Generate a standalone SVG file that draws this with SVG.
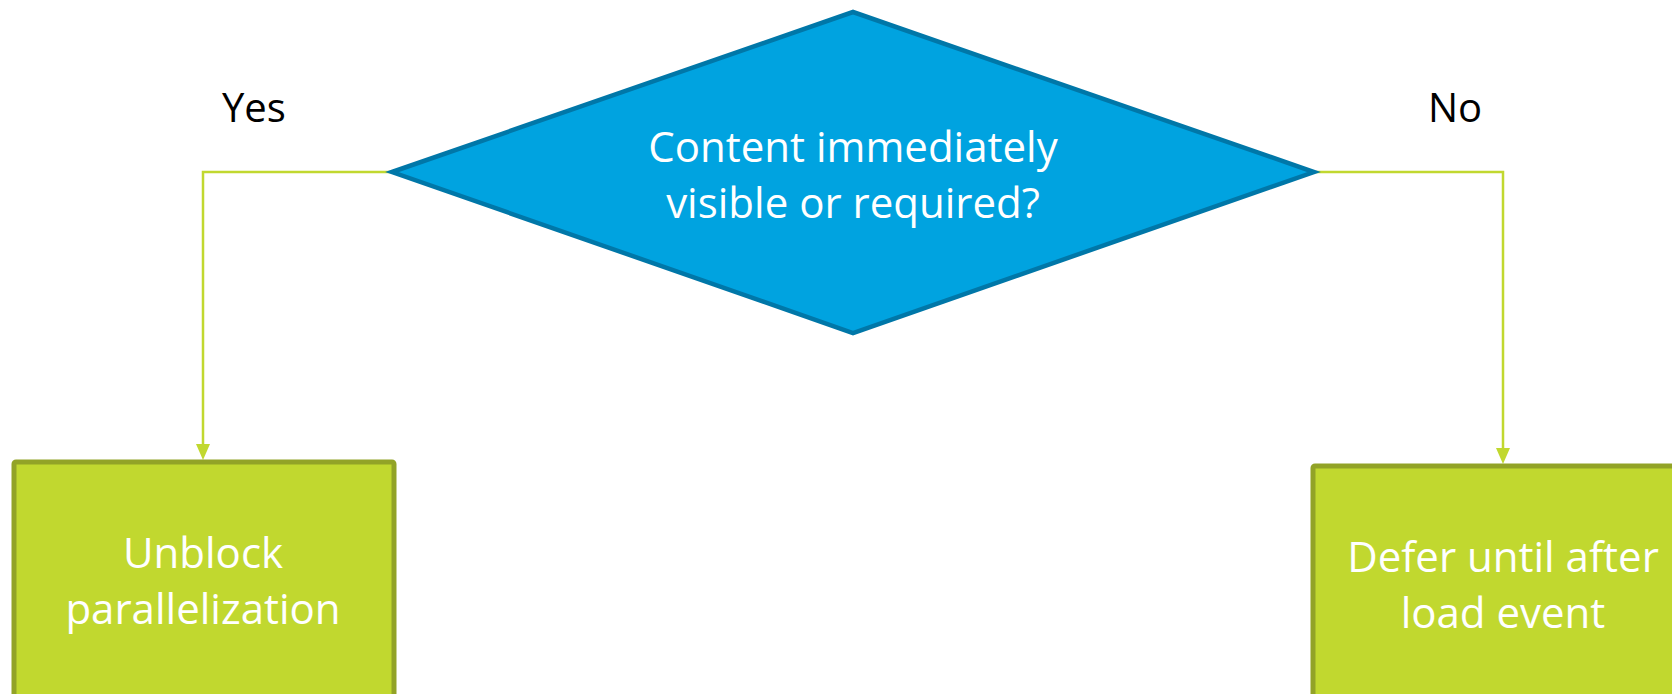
<svg xmlns="http://www.w3.org/2000/svg" width="1672" height="694" viewBox="0 0 1672 694">
<style>
.lbl{font-family:"Open Sans","Noto Sans",sans-serif;font-size:40px;fill:#000}
.wt{font-family:"Open Sans","Noto Sans",sans-serif;font-size:42px;fill:#fff;text-anchor:middle}
.box{fill:#c1d82f;stroke:#92a327;stroke-width:5}
.conn{fill:none;stroke:#c1d82f;stroke-width:2.5}
.head{fill:#c1d82f}
</style>
<rect width="1672" height="694" fill="#fff"/>
<g id="connectors">
<path class="conn" d="M392,172 H203 V445" />
<path class="head" d="M196,444 L210,444 L203,460 Z"/>
<path class="conn" d="M1314,172 H1503 V449" />
<path class="head" d="M1496,448 L1510,448 L1503,464 Z"/>
</g>
<g id="decision">
<polygon points="392,172 853,12 1314,172 853,333" fill="#00a3e0" stroke="#0077a8" stroke-width="4.5" stroke-linejoin="miter"/>
<text class="wt" x="853" y="162">Content immediately</text>
<text class="wt" x="853" y="218">visible or required?</text>
</g>
<g id="label-yes"><text class="lbl" x="222" y="122">Yes</text></g>
<g id="label-no"><text class="lbl" x="1428" y="122">No</text></g>
<g id="unblock">
<rect class="box" x="14" y="462" width="380" height="260" rx="2"/>
<text class="wt" x="203" y="568">Unblock</text>
<text class="wt" x="203" y="624">parallelization</text>
</g>
<g id="defer">
<rect class="box" x="1313" y="466" width="400" height="260" rx="2"/>
<text class="wt" x="1503" y="572">Defer until after</text>
<text class="wt" x="1503" y="628">load event</text>
</g>
</svg>
